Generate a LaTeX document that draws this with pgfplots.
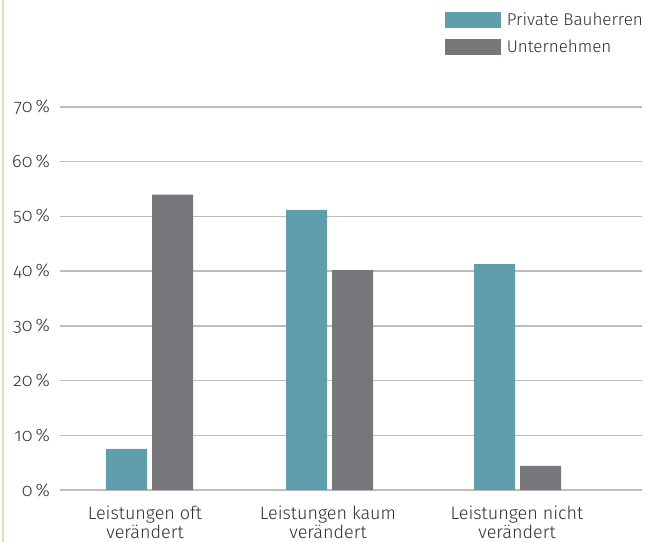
\documentclass[border=0pt]{standalone}
\usepackage{fontspec}
\setmainfont{Fira Sans}[UprightFont=* Light, Numbers=OldStyle]
\usepackage{pgfplots}
\pgfplotsset{compat=1.18}
\definecolor{tealbar}{HTML}{619EAB}
\definecolor{greybar}{HTML}{77777B}
\definecolor{gridc}{HTML}{BDBDBD}
\definecolor{beige}{HTML}{EADBC3}
\definecolor{txt}{HTML}{2E2E2E}

\begin{document}
\fontsize{18bp}{19bp}\selectfont
\begin{tikzpicture}
\begin{axis}[
  name=ax, at={(0,0)}, anchor=south west,
  scale only axis, width=582bp, height=383bp,
  ymin=0, ymax=70, xmin=60, xmax=642,
  ybar=5bp, bar width=41bp,
  axis line style={draw=none},
  major tick length=0pt,
  ymajorgrids, grid style={gridc, line width=1.5bp},
  xtick={145,328,517},
  xticklabels={{Leistungen oft\\verändert},{Leistungen kaum\\verändert},{Leistungen nicht\\verändert}},
  x tick label style={align=center, anchor=north, yshift=-10bp},
  ytick={0,10,...,70},
  yticklabel={\pgfmathprintnumber{\tick}\,\%},
  y tick label style={anchor=east, xshift=-4bp},
  /pgf/number format/assume math mode=true,
  tick label style={font=\fontsize{18bp}{19bp}\selectfont, text=txt},
  legend style={at={(1,1)}, anchor=south east, xshift=3bp, yshift=50bp,
    draw=none, fill=none, font=\fontsize{17bp}{18bp}\selectfont, text=txt,
    row sep=7.5bp, inner sep=0pt,
    /tikz/every odd column/.append style={column sep=4bp}},
  legend cell align=left,
  legend image code/.code={\fill[#1] (0bp,-8bp) rectangle (56bp,8bp);},
]
\addplot[fill=tealbar, draw=none] coordinates {(149.5,7.5) (329.5,51.2) (517.5,41.3)};
\addplot[fill=greybar, draw=none] coordinates {(149.5,54.0) (329.5,40.2) (517.5,4.4)};
\legend{Private Bauherren, Unternehmen}
\end{axis}
\pgfresetboundingbox
\path[use as bounding box] (-60bp,-52bp) rectangle (586bp,490bp);
\draw[beige, line width=1.5bp] (-57bp,-52bp) -- (-57bp,490bp);
\end{tikzpicture}
\end{document}
